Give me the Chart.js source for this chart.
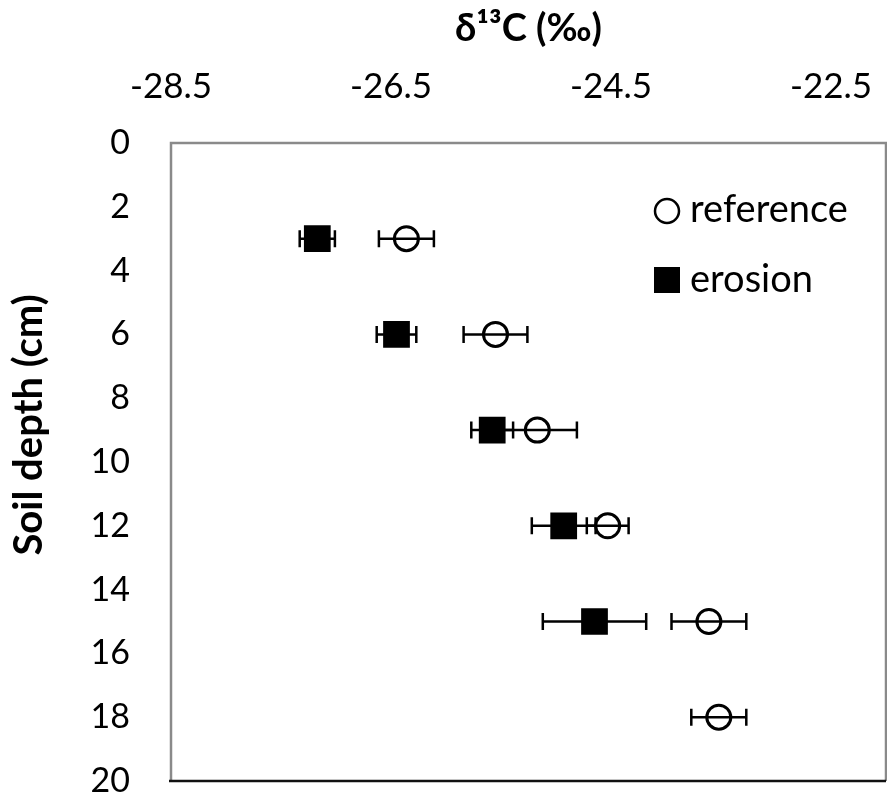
<!DOCTYPE html>
<html>
<head>
<meta charset="utf-8">
<script src="https://cdn.jsdelivr.net/npm/chart.js@4/dist/chart.umd.min.js"></script>
<style>
  html, body { margin: 0; padding: 0; background: #fff; }
  #wrap { width: 887px; height: 795px; }
</style>
</head>
<body>
<div id="wrap"><canvas id="delta-chart"></canvas></div>
<script>
// soil depth of each sample (cm)
const depths = [3, 6, 9, 12, 15, 18];
const erosionDepths = [3, 6, 9, 12, 15];

// delta 13C values and their error bars
const referenceValues = [-26.36, -25.55, -25.17, -24.53, -23.61, -23.52];
const referenceErrors = [0.25, 0.29, 0.36, 0.19, 0.34, 0.25];
const erosionValues = [-27.17, -26.45, -25.58, -24.93, -24.65];
const erosionErrors = [0.16, 0.18, 0.19, 0.29, 0.47];

const xTicks = [-28.5, -26.5, -24.5, -22.5];

const FONT = 'Lato, "Open Sans", sans-serif';

function toPoints(values, ys) {
    return values.map((v, i) => ({x: v, y: ys[i]}));
}

// horizontal error bars, drawn under the markers
const errorBars = {
    id: 'errorBars',
    beforeDatasetsDraw(chart) {
        const {ctx, scales: {x, y}} = chart;
        ctx.save();
        ctx.strokeStyle = '#000';
        ctx.lineWidth = 2.5;
        chart.data.datasets.forEach(ds => {
            ds.data.forEach((p, i) => {
                const err = ds.errors[i];
                const x0 = x.getPixelForValue(p.x - err);
                const x1 = x.getPixelForValue(p.x + err);
                const py = y.getPixelForValue(p.y);
                ctx.beginPath();
                ctx.moveTo(x0, py); ctx.lineTo(x1, py);
                ctx.moveTo(x0, py - 8.5); ctx.lineTo(x0, py + 8.5);
                ctx.moveTo(x1, py - 8.5); ctx.lineTo(x1, py + 8.5);
                ctx.stroke();
            });
        });
        ctx.restore();
    }
};

// plot frame, y title and the legend inside the plot
const frame = {
    id: 'frame',
    beforeDatasetsDraw(chart) {
        const {ctx, chartArea: a} = chart;
        ctx.save();
        ctx.strokeStyle = '#8a8a8a';
        ctx.lineWidth = 2.5;
        ctx.beginPath();
        ctx.moveTo(a.left, a.bottom); ctx.lineTo(a.left, a.top);
        ctx.lineTo(a.right, a.top); ctx.lineTo(a.right, a.bottom);
        ctx.stroke();
        ctx.strokeStyle = '#111';
        ctx.beginPath();
        ctx.moveTo(a.left - 2, a.bottom); ctx.lineTo(a.right, a.bottom);
        ctx.stroke();
        ctx.restore();
    },
    afterDraw(chart) {
        const {ctx} = chart;
        ctx.save();
        ctx.fillStyle = '#000';
        ctx.font = 'bold 40px ' + FONT;
        ctx.textAlign = 'center';
        ctx.textBaseline = 'middle';
        ctx.translate(29, 425);
        ctx.rotate(-Math.PI / 2);
        ctx.fillText('Soil depth (cm)', 0, 0);
        ctx.restore();

        ctx.save();
        ctx.font = '38px ' + FONT;
        ctx.textBaseline = 'middle';
        ctx.fillStyle = '#000';
        ctx.strokeStyle = '#000';
        ctx.lineWidth = 2.5;
        ctx.beginPath();
        ctx.arc(667, 211, 12, 0, Math.PI * 2);
        ctx.stroke();
        ctx.fillText('reference', 690, 210);
        ctx.fillRect(654, 267, 26, 26);
        ctx.fillText('erosion', 690, 280);
        ctx.restore();
    }
};

new Chart(document.querySelector('#delta-chart'), {
    type: 'scatter',
    data: {
        datasets: [
            {
                label: 'reference',
                data: toPoints(referenceValues, depths),
                errors: referenceErrors,
                pointStyle: 'circle',
                pointRadius: 12,
                pointHoverRadius: 12,
                pointBorderWidth: 3,
                borderColor: '#000',
                backgroundColor: 'rgba(0,0,0,0)'
            },
            {
                label: 'erosion',
                data: toPoints(erosionValues, erosionDepths),
                errors: erosionErrors,
                pointStyle: 'rect',
                pointRadius: 17.5,
                pointHoverRadius: 17.5,
                pointBorderWidth: 2,
                borderColor: '#000',
                backgroundColor: '#000'
            }
        ]
    },
    options: {
        responsive: true,
        maintainAspectRatio: false,
        animation: false,
        layout: {autoPadding: false, padding: {left: 0, right: 1, top: 0, bottom: 14}},
        plugins: {legend: {display: false}, tooltip: {enabled: false}},
        scales: {
            x: {
                type: 'linear',
                position: 'top',
                min: -28.5,
                max: -22.0,
                afterBuildTicks: s => { s.ticks = xTicks.map(v => ({value: v})); },
                afterFit: s => { s.height = 143; s.paddingLeft = 0; s.paddingRight = 0; },
                ticks: {color: '#000', font: {family: FONT, size: 35}, padding: 35, maxRotation: 0,
                        callback: v => v.toFixed(1)},
                grid: {display: false, drawTicks: false},
                border: {display: false},
                title: {display: true, text: 'δ¹³C (‰)', color: '#000',
                        font: {family: FONT, size: 38, weight: 'bold'}, padding: {top: 6, bottom: 0}}
            },
            y: {
                type: 'linear',
                reverse: true,
                min: 0,
                max: 20,
                afterFit: s => { s.width = 171; s.paddingTop = 0; s.paddingBottom = 0; },
                ticks: {stepSize: 2, color: '#000', font: {family: FONT, size: 34}, padding: 41},
                grid: {display: false, drawTicks: false},
                border: {display: false}
            }
        }
    },
    plugins: [errorBars, frame]
});
</script>
</body>
</html>
